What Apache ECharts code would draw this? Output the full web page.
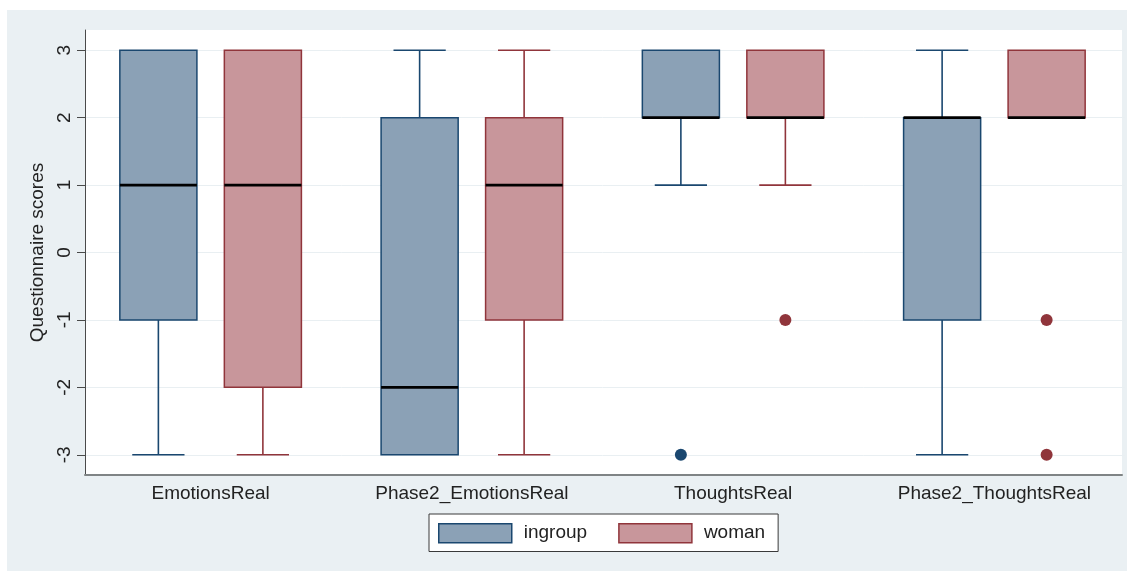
<!DOCTYPE html>
<html>
<head>
<meta charset="utf-8">
<title>Questionnaire scores</title>
<script src="https://cdn.jsdelivr.net/npm/echarts@6/dist/echarts.min.js"></script>
<style>
  html, body { margin: 0; padding: 0; background: #ffffff; }
  #chart { width: 1134px; height: 571px; }
</style>
</head>
<body>
<div id="chart"></div>
<script>
// Questionnaire items on the x axis
const categories = ['EmotionsReal', 'Phase2_EmotionsReal', 'ThoughtsReal', 'Phase2_ThoughtsReal'];

// Box summaries per item: [lower whisker, Q1, median, Q3, upper whisker]
const ingroupBoxes = [
  [-3, -1, 1, 3, 3],
  [-3, -3, -2, 2, 3],
  [1, 2, 2, 3, 3],
  [-3, -1, 2, 2, 3]
];
const womanBoxes = [
  [-3, -2, 1, 3, 3],
  [-3, -1, 1, 2, 3],
  [1, 2, 2, 3, 3],
  [2, 2, 2, 3, 3]
];

// Outside values: [item index, score]
const ingroupOutliers = [[2, -3]];
const womanOutliers = [[2, -1], [3, -1], [3, -3]];

const yTicks = [-3, -2, -1, 0, 1, 2, 3];

const FONT = '"Liberation Sans", Arial, sans-serif';
const TEXT = '#222222';

const groups = [
  { name: 'ingroup', boxes: ingroupBoxes, outliers: ingroupOutliers, fill: '#8BA1B6', line: '#1A476F', shift: -0.2 },
  { name: 'woman', boxes: womanBoxes, outliers: womanOutliers, fill: '#C8969B', line: '#90353B', shift: 0.2 }
];

function boxRenderer(g) {
  return function (params, api) {
    const cat = api.value(0);
    const lo = api.value(1), q1 = api.value(2), med = api.value(3), q3 = api.value(4), hi = api.value(5);
    const band = api.size([1, 0])[0];
    const cx = api.coord([cat, 0])[0] + g.shift * band;
    const boxW = band * 0.295;
    const capW = band * 0.2;
    const y = v => api.coord([cat, v])[1];
    const whisker = { stroke: g.line, lineWidth: 1.6 };
    const children = [];
    if (hi > q3) {
      children.push({ type: 'line', shape: { x1: cx, y1: y(q3), x2: cx, y2: y(hi) }, style: whisker });
      children.push({ type: 'line', shape: { x1: cx - capW / 2, y1: y(hi), x2: cx + capW / 2, y2: y(hi) }, style: whisker });
    }
    if (lo < q1) {
      children.push({ type: 'line', shape: { x1: cx, y1: y(q1), x2: cx, y2: y(lo) }, style: whisker });
      children.push({ type: 'line', shape: { x1: cx - capW / 2, y1: y(lo), x2: cx + capW / 2, y2: y(lo) }, style: whisker });
    }
    const top = y(q3), bottom = y(q1);
    children.push({
      type: 'rect',
      shape: { x: cx - boxW / 2, y: top, width: boxW, height: bottom - top },
      style: { fill: g.fill, stroke: g.line, lineWidth: 1.5 }
    });
    children.push({
      type: 'line',
      shape: { x1: cx - boxW / 2, y1: y(med), x2: cx + boxW / 2, y2: y(med) },
      style: { stroke: '#000000', lineWidth: 2.6 }
    });
    return { type: 'group', children: children };
  };
}

function outlierRenderer(g) {
  return function (params, api) {
    const cat = api.value(0);
    const band = api.size([1, 0])[0];
    const p = api.coord([cat, api.value(1)]);
    return {
      type: 'circle',
      shape: { cx: p[0] + g.shift * band, cy: p[1], r: 6 },
      style: { fill: g.line }
    };
  };
}

const series = [];
groups.forEach(g => {
  series.push({
    name: g.name,
    type: 'custom',
    renderItem: boxRenderer(g),
    itemStyle: { color: g.fill, borderColor: g.line, borderWidth: 1.5 },
    encode: { x: 0, y: [1, 2, 3, 4, 5] },
    data: g.boxes.map((b, i) => [i].concat(b)),
    z: 3
  });
});
groups.forEach(g => {
  series.push({
    name: g.name,
    type: 'custom',
    renderItem: outlierRenderer(g),
    itemStyle: { color: g.fill, borderColor: g.line, borderWidth: 1.5 },
    encode: { x: 0, y: 1 },
    data: g.outliers,
    z: 4
  });
});

const chart = echarts.init(document.getElementById('chart'), null, { renderer: 'canvas' });
chart.setOption({
  animation: false,
  backgroundColor: '#ffffff',
  textStyle: { fontFamily: FONT, color: TEXT },
  graphic: [
    {
      type: 'rect', z: -100, silent: true,
      shape: { x: 7, y: 10, width: 1120, height: 561 },
      style: { fill: '#EAF0F3' }
    },
    {
      type: 'rect', z: -90, silent: true,
      shape: { x: 85, y: 30, width: 1037, height: 445 },
      style: { fill: '#ffffff' }
    }
  ],
  grid: [
    // data area: category bands spread slightly wider than the framed region
    { left: 80, right: 9, top: 30, bottom: 96, show: false },
    // framed region carrying the bottom axis rule
    { left: 85, right: 12, top: 30, bottom: 96, show: false }
  ],
  legend: {
    left: 429, top: 514,
    orient: 'horizontal',
    backgroundColor: '#ffffff',
    borderColor: '#3a3a3a',
    borderWidth: 1,
    padding: [9, 13, 8, 9],
    itemWidth: 73,
    itemHeight: 19,
    itemGap: 31,
    selectedMode: false,
    textStyle: { fontFamily: FONT, fontSize: 19, color: TEXT, lineHeight: 19, padding: [0, 0, 0, 7] },
    data: groups.map(g => ({
      name: g.name,
      icon: 'rect',
      itemStyle: { color: g.fill, borderColor: g.line, borderWidth: 1.5 }
    }))
  },
  xAxis: [
    {
      type: 'category',
      gridIndex: 0,
      data: categories,
      boundaryGap: true,
      axisLine: { show: false, onZero: false },
      axisTick: { show: false },
      axisLabel: { fontFamily: FONT, fontSize: 19, color: TEXT, margin: 9, interval: 0 },
      splitLine: { show: false }
    },
    {
      type: 'value',
      gridIndex: 1,
      min: 0, max: 1,
      axisLine: { show: true, onZero: false, lineStyle: { color: '#7f8485', width: 2 } },
      axisTick: { show: false },
      axisLabel: { show: false },
      splitLine: { show: false }
    }
  ],
  yAxis: [
    {
      type: 'value',
      gridIndex: 0,
      min: -3.3,
      max: 3.3,
      offset: -5,
      name: 'Questionnaire scores',
      nameLocation: 'middle',
      nameGap: 30,
      nameTextStyle: { fontFamily: FONT, fontSize: 19, color: TEXT },
      axisLine: { show: true, lineStyle: { color: '#4a4a4a', width: 1 } },
      axisTick: { show: true, length: 8, customValues: yTicks, lineStyle: { color: '#4a4a4a' } },
      axisLabel: { fontFamily: FONT, fontSize: 19, color: TEXT, rotate: 90, margin: 11, customValues: yTicks },
      splitLine: { show: true, lineStyle: { color: '#E9EFF2', width: 1 } }
    },
    {
      type: 'value',
      gridIndex: 1,
      min: -3.3, max: 3.3,
      show: false
    }
  ],
  series: series
});
</script>
</body>
</html>
